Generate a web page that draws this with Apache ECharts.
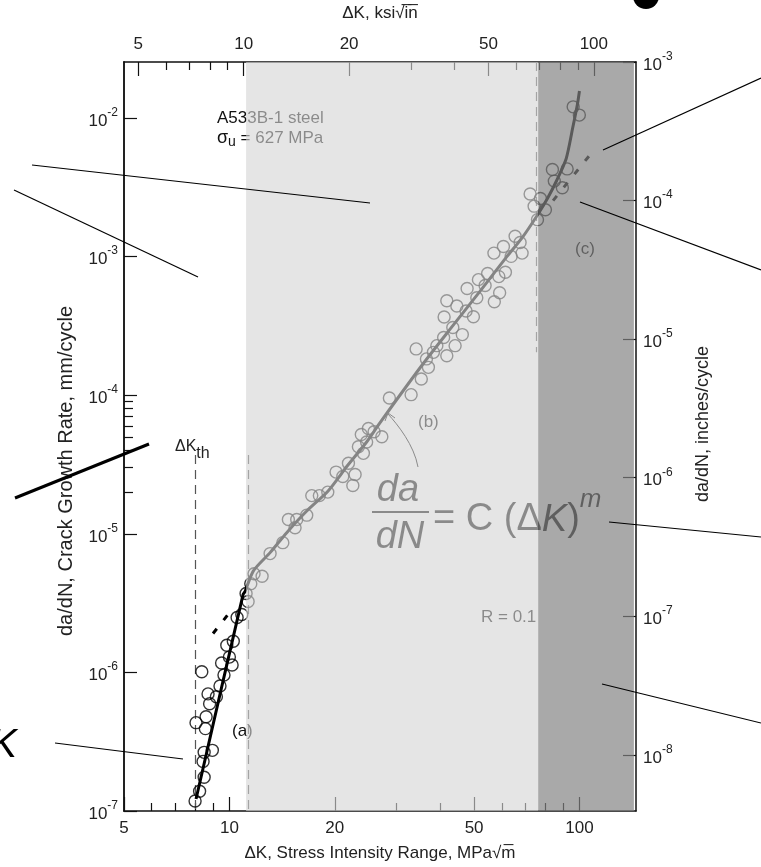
<!DOCTYPE html>
<html>
<head>
<meta charset="utf-8">
<title>Fatigue crack growth - A533B-1 steel</title>
<script src="https://cdn.jsdelivr.net/npm/echarts@6/dist/echarts.min.js"></script>
<style>
  html, body { margin: 0; padding: 0; background: #fff; }
  #chart { width: 761px; height: 867px; }
</style>
</head>
<body>
<div id="chart"></div>
<script>
// ΔK in MPa√m, da/dN in mm/cycle

// Stage (a): near-threshold points
const stageIK = [7.98, 8.22, 8.47, 8.41, 8.47, 8.94, 8.54, 8.03, 8.58, 8.78, 9.18, 8.69,
  9.40, 8.34, 9.65, 10.18, 9.50, 10.0, 9.83, 10.26, 10.52, 10.85, 11.31, 11.16];
const stageIRate = [1.18e-7, 1.39e-7, 1.75e-7, 2.28e-7, 2.65e-7, 2.74e-7, 3.93e-7, 4.34e-7,
  4.79e-7, 5.94e-7, 6.67e-7, 7.00e-7, 7.99e-7, 1.01e-6, 9.58e-7, 1.13e-6, 1.17e-6, 1.29e-6,
  1.57e-6, 1.68e-6, 2.49e-6, 2.62e-6, 3.25e-6, 3.71e-6];

// Stage (b) and (c) points
const stageIIK = [11.51, 11.76, 12.40, 13.07, 14.21, 15.40, 14.74, 15.57, 16.63, 17.19, 18.07,
  19.10, 20.17, 21.08, 21.88, 22.52, 22.86, 23.36, 23.81, 24.14, 24.66, 24.95, 25.90, 27.25,
  28.64, 33.04, 34.15, 35.33, 36.54, 37.02, 38.26, 39.13, 40.92, 41.05, 41.78, 41.78, 43.46,
  44.13, 44.63, 46.27, 47.43, 47.75, 49.77, 50.89, 51.44, 53.75, 54.65, 57.11, 56.96, 59.14,
  58.83, 60.63, 61.43, 63.78, 65.47, 67.66, 68.56, 72.27, 74.19, 75.85, 77.35, 79.92, 83.68,
  92.19, 84.73, 89.33, 95.92, 99.9];
const stageIIRate = [4.37e-6, 5.15e-6, 4.94e-6, 7.20e-6, 8.64e-6, 1.106e-5, 1.27e-5, 1.27e-5,
  1.364e-5, 1.887e-5, 1.887e-5, 2.00e-5, 2.79e-5, 2.59e-5, 3.23e-5, 2.23e-5, 2.68e-5, 4.25e-5,
  5.21e-5, 3.81e-5, 4.60e-5, 5.75e-5, 5.45e-5, 5.02e-5, 9.55e-5, 1.01e-4, 2.16e-4, 1.31e-4,
  1.83e-4, 1.59e-4, 2.04e-4, 2.28e-4, 2.61e-4, 3.67e-4, 1.93e-4, 4.81e-4, 3.08e-4, 2.28e-4,
  4.41e-4, 2.74e-4, 4.06e-4, 5.89e-4, 3.69e-4, 5.05e-4, 6.83e-4, 6.19e-4, 7.56e-4, 4.73e-4,
  1.061e-3, 5.49e-4, 7.18e-4, 1.185e-3, 7.72e-4, 1.005e-3, 1.405e-3, 1.266e-3, 1.061e-3,
  2.83e-3, 2.315e-3, 1.85e-3, 2.63e-3, 2.18e-3, 4.26e-3, 4.30e-3, 3.51e-3, 3.14e-3,
  1.206e-2, 1.051e-2];

// Fitted curve through the three regimes
const fitK = [8.03, 10.94, 11.08, 11.71, 13.07, 14.58, 16.63, 19.17, 21.64, 24.69, 26.94,
  35.44, 42.69, 52.02, 62.0, 68.44, 75.85, 80.98, 86.13, 91.6, 95.7, 98.65, 99.97];
const fitRate = [1.22e-7, 3.64e-6, 3.83e-6, 5.41e-6, 7.32e-6, 1.02e-5, 1.46e-5, 2.05e-5,
  3.06e-5, 4.62e-5, 6.35e-5, 1.64e-4, 3.00e-4, 5.64e-4, 1.00e-3, 1.36e-3, 2.00e-3, 2.63e-3,
  3.56e-3, 5.09e-3, 8.58e-3, 1.26e-2, 1.57e-2];

// Paris law extrapolations (dashed)
const parisLowK = [8.98, 10.18];
const parisLowRate = [1.91e-6, 2.85e-6];
const parisHighK = [84.05, 109.4];
const parisHighRate = [2.54e-3, 5.80e-3];

// Vertical guides and regime limits
const thresholdK = 8.0;
const stageABoundK = 11.33;
const stageCBoundK = 75.2;
const guideLowTop = 3.7e-5;
const guideHighBottom = 2.04e-4;
const regionBounds = [11.16, 76.2, 143];

// Ticks
const kMajorTicks = [5, 10, 20, 50, 100];
const kMinorTicks = [6, 7, 8, 9, 30, 40, 60, 70, 80, 90];
const rateTicks = [1e-7, 1e-6, 1e-5, 1e-4, 1e-3, 1e-2];
const rateMinorTicks = [2e-5, 3e-5, 4e-5, 5e-5, 6e-5, 7e-5, 8e-5, 9e-5];
const inchTicks = [1e-8, 1e-7, 1e-6, 1e-5, 1e-4, 1e-3];

const MPA_PER_KSI = 1.0988;
const MM_PER_INCH = 25.4;
const kMin = 5, kMax = 145;
const rateMin = 1e-7, rateMax = 0.0254;

const FONT = '"Liberation Sans", Arial, sans-serif';

function pares(xs, ys) {
  return xs.map((x, i) => [x, ys[i]]);
}

// Etiqueta 10^n con exponente
function potencia(v) {
  return '{b|10}{e|' + Math.round(Math.log10(v)) + '}';
}
const richPot = {
  b: { fontSize: 17, color: '#222', fontFamily: FONT, lineHeight: 23, verticalAlign: 'bottom' },
  e: { fontSize: 12, color: '#222', fontFamily: FONT, verticalAlign: 'top' }
};

function ejeK(pos, min, max, valores, largo, conEtiqueta, extra) {
  return Object.assign({
    type: 'log', gridIndex: 0, position: pos, min: min, max: max,
    axisLine: { show: conEtiqueta, lineStyle: { color: '#111', width: 1.5 } },
    axisTick: { show: true, inside: true, length: largo, customValues: valores,
      lineStyle: { color: '#111', width: 1.2 } },
    axisLabel: { show: conEtiqueta, customValues: valores, fontSize: 17, color: '#222',
      fontFamily: FONT, margin: 9 },
    splitLine: { show: false }, minorTick: { show: false }
  }, extra || {});
}

const chart = echarts.init(document.getElementById('chart'), null, { renderer: 'canvas' });

const option = {
  animation: false,
  backgroundColor: '#fff',
  textStyle: { fontFamily: FONT },
  grid: { left: 124, right: 125, top: 60, bottom: 55, containLabel: false },
  xAxis: [
    ejeK('bottom', kMin, kMax, kMajorTicks, 14, true, {
      name: 'ΔK, Stress Intensity Range, MPa√m\u0305', nameLocation: 'middle', nameGap: 34,
      nameTextStyle: { fontSize: 17, color: '#222', fontFamily: FONT }
    }),
    ejeK('bottom', kMin, kMax, kMinorTicks, 8, false),
    ejeK('top', kMin / MPA_PER_KSI, kMax / MPA_PER_KSI, kMajorTicks, 14, true, {
      name: 'ΔK, ksi√i\u0305n\u0305', nameLocation: 'middle', nameGap: 40,
      nameTextStyle: { fontSize: 17, color: '#222', fontFamily: FONT }
    }),
    ejeK('top', kMin / MPA_PER_KSI, kMax / MPA_PER_KSI, kMinorTicks, 8, false)
  ],
  yAxis: [
    {
      type: 'log', gridIndex: 0, position: 'left', min: rateMin, max: rateMax,
      axisLine: { show: true, lineStyle: { color: '#222', width: 2 } },
      axisTick: { inside: true, length: 13, customValues: rateTicks,
        lineStyle: { color: '#111', width: 1.2 } },
      axisLabel: { customValues: rateTicks, formatter: potencia, rich: richPot, margin: 6 },
      splitLine: { show: false }
    },
    {
      type: 'log', gridIndex: 0, position: 'left', min: rateMin, max: rateMax,
      axisLine: { show: false },
      axisTick: { inside: true, length: 9, customValues: rateMinorTicks,
        lineStyle: { color: '#111', width: 1.2 } },
      axisLabel: { show: false },
      splitLine: { show: false }
    },
    {
      type: 'log', gridIndex: 0, position: 'right',
      min: rateMin / MM_PER_INCH, max: rateMax / MM_PER_INCH,
      axisLine: { show: true, lineStyle: { color: '#111', width: 1.5 } },
      axisTick: { inside: true, length: 13, customValues: inchTicks,
        lineStyle: { color: '#111', width: 1.2 } },
      axisLabel: { customValues: inchTicks, formatter: potencia, rich: richPot, margin: 7 },
      splitLine: { show: false }
    }
  ],
  series: [
    {
      name: 'ajuste', type: 'line', xAxisIndex: 0, yAxisIndex: 0, z: 4, silent: true,
      data: pares(fitK, fitRate), showSymbol: false, smooth: 0.25,
      lineStyle: { color: '#000', width: 3 }
    },
    {
      name: 'Paris bajo', type: 'line', xAxisIndex: 0, yAxisIndex: 0, z: 4, silent: true,
      data: pares(parisLowK, parisLowRate), showSymbol: false,
      lineStyle: { color: '#000', width: 3, type: [6, 11] }
    },
    {
      name: 'Paris alto', type: 'line', xAxisIndex: 0, yAxisIndex: 0, z: 4, silent: true,
      data: pares(parisHighK, parisHighRate), showSymbol: false,
      lineStyle: { color: '#000', width: 3, type: [6, 11] }
    },
    {
      name: 'etapa a', type: 'scatter', xAxisIndex: 0, yAxisIndex: 0, z: 3,
      data: pares(stageIK, stageIRate), symbol: 'circle', symbolSize: 12,
      itemStyle: { color: 'rgba(255,255,255,0)', borderColor: '#000', borderWidth: 1.4 }
    },
    {
      name: 'etapa b-c', type: 'scatter', xAxisIndex: 0, yAxisIndex: 0, z: 3,
      data: pares(stageIIK, stageIIRate), symbol: 'circle', symbolSize: 12,
      itemStyle: { color: 'rgba(255,255,255,0)', borderColor: '#000', borderWidth: 1.4 }
    },
    {
      name: 'guias', type: 'line', xAxisIndex: 0, yAxisIndex: 0, data: [], z: 3,
      markLine: {
        silent: true, symbol: ['none', 'none'], label: { show: false }, z: 3,
        lineStyle: { color: '#555', width: 1.2, type: [9, 6] },
        data: [
          [{ coord: [thresholdK, guideLowTop] }, { coord: [thresholdK, rateMin] }],
          [{ coord: [stageABoundK, guideLowTop] }, { coord: [stageABoundK, rateMin] }],
          [{ coord: [stageCBoundK, rateMax] }, { coord: [stageCBoundK, guideHighBottom] }]
        ]
      }
    },
    {
      name: 'regiones', type: 'line', xAxisIndex: 0, yAxisIndex: 0, data: [], z: 20,
      markArea: {
        silent: true, z: 20,
        data: [
          [{ xAxis: regionBounds[0], itemStyle: { color: 'rgba(213,213,213,0.62)' } },
           { xAxis: regionBounds[1] }],
          [{ xAxis: regionBounds[1], itemStyle: { color: 'rgba(131,131,131,0.69)' } },
           { xAxis: regionBounds[2] }]
        ]
      }
    }
  ],
  graphic: {
    elements: [
      // Titulos de los ejes verticales
      { type: 'text', x: 66, y: 471, rotation: Math.PI / 2, z: 5,
        style: { text: 'da/dN, Crack Growth Rate, mm/cycle', fontSize: 20, fontFamily: FONT,
          fill: '#222', align: 'center', verticalAlign: 'middle' } },
      { type: 'text', x: 703, y: 424, rotation: Math.PI / 2, z: 5,
        style: { text: 'da/dN, inches/cycle', fontSize: 18, fontFamily: FONT,
          fill: '#222', align: 'center', verticalAlign: 'middle' } },

      // Textos dentro del grafico (bajo las zonas sombreadas)
      { type: 'text', x: 217, y: 118, z: 5,
        style: { text: 'A533B-1 steel', fontSize: 17, fontFamily: FONT, fill: '#111',
          verticalAlign: 'middle' } },
      { type: 'text', x: 217, y: 138, z: 5,
        style: { text: '{a|σ}{b|u}{c| = 627 MPa}', fontFamily: FONT, fill: '#111',
          verticalAlign: 'middle',
          rich: { a: { fontSize: 18, fill: '#111' }, b: { fontSize: 14, fill: '#111', padding: [8, 0, 0, 0] },
            c: { fontSize: 17, fill: '#111' } } } },
      { type: 'text', x: 175, y: 447, z: 5,
        style: { text: '{a|ΔK}{b|th}', fontFamily: FONT, fill: '#222', verticalAlign: 'middle',
          rich: { a: { fontSize: 16, fill: '#222' }, b: { fontSize: 16, fill: '#222', padding: [13, 0, 0, 0] } } } },
      { type: 'text', x: 232, y: 731, z: 5,
        style: { text: '(a)', fontSize: 17, fontFamily: FONT, fill: '#111', verticalAlign: 'middle' } },
      { type: 'text', x: 418, y: 422, z: 5,
        style: { text: '(b)', fontSize: 17, fontFamily: FONT, fill: '#111', verticalAlign: 'middle' } },
      { type: 'text', x: 575, y: 249, z: 5,
        style: { text: '(c)', fontSize: 17, fontFamily: FONT, fill: '#111', verticalAlign: 'middle' } },
      { type: 'text', x: 481, y: 617, z: 5,
        style: { text: 'R = 0.1', fontSize: 17, fontFamily: FONT, fill: '#111', verticalAlign: 'middle' } },

      // Flecha de (b)
      { type: 'bezierCurve', z: 5, silent: true,
        shape: { x1: 418, y1: 467, cpx1: 414, cpy1: 445, cpx2: 398, cpy2: 425, x2: 388, y2: 414 },
        style: { stroke: '#111', lineWidth: 1, fill: null } },
      { type: 'polyline', z: 5, silent: true,
        shape: { points: [[385, 421], [388, 413], [395, 418]] },
        style: { stroke: '#111', lineWidth: 1, fill: null } },

      // Ecuacion de Paris
      { type: 'text', x: 398, y: 490, z: 5,
        style: { text: 'da', fontSize: 38, fontStyle: 'italic', fontFamily: FONT, fill: '#111',
          align: 'center', verticalAlign: 'middle' } },
      { type: 'line', z: 5, silent: true, shape: { x1: 372, y1: 512, x2: 429, y2: 512 },
        style: { stroke: '#111', lineWidth: 2.2 } },
      { type: 'text', x: 400, y: 537, z: 5,
        style: { text: 'dN', fontSize: 38, fontStyle: 'italic', fontFamily: FONT, fill: '#111',
          align: 'center', verticalAlign: 'middle' } },
      { type: 'text', x: 433, y: 513, z: 5,
        style: { text: '{n|= C (Δ}{i|K}{n|)}{s|m}', fontFamily: FONT, fill: '#111',
          verticalAlign: 'middle',
          rich: {
            n: { fontSize: 38, fill: '#111', lineHeight: 52, verticalAlign: 'bottom' },
            i: { fontSize: 38, fill: '#111', fontStyle: 'italic', lineHeight: 52, verticalAlign: 'bottom' },
            s: { fontSize: 26, fill: '#111', fontStyle: 'italic', verticalAlign: 'top' }
          } } },

      // Lineas de anotacion de la diapositiva (encima de todo)
      { type: 'line', z: 50, silent: true, shape: { x1: 32, y1: 165, x2: 370, y2: 203 },
        style: { stroke: '#000', lineWidth: 1.2 } },
      { type: 'line', z: 50, silent: true, shape: { x1: 14, y1: 190, x2: 198, y2: 277 },
        style: { stroke: '#000', lineWidth: 1.2 } },
      { type: 'line', z: 50, silent: true, shape: { x1: 15, y1: 498, x2: 149, y2: 444 },
        style: { stroke: '#000', lineWidth: 3 } },
      { type: 'line', z: 50, silent: true, shape: { x1: 55, y1: 743, x2: 183, y2: 759 },
        style: { stroke: '#000', lineWidth: 1.2 } },
      { type: 'line', z: 50, silent: true, shape: { x1: 603, y1: 150, x2: 761, y2: 78 },
        style: { stroke: '#000', lineWidth: 1.2 } },
      { type: 'line', z: 50, silent: true, shape: { x1: 580, y1: 202, x2: 761, y2: 270 },
        style: { stroke: '#000', lineWidth: 1.2 } },
      { type: 'line', z: 50, silent: true, shape: { x1: 609, y1: 522, x2: 761, y2: 537 },
        style: { stroke: '#000', lineWidth: 1.2 } },
      { type: 'line', z: 50, silent: true, shape: { x1: 602, y1: 684, x2: 761, y2: 723 },
        style: { stroke: '#000', lineWidth: 1.2 } },
      { type: 'text', x: 17, y: 746, z: 50,
        style: { text: 'K', fontSize: 40, fontStyle: 'italic', fontFamily: FONT, fill: '#000',
          align: 'right', verticalAlign: 'middle' } },
      { type: 'circle', z: 50, silent: true, shape: { cx: 646, cy: -4, r: 13 },
        style: { fill: '#000' } }
    ]
  }
};

chart.setOption(option);
</script>
</body>
</html>
